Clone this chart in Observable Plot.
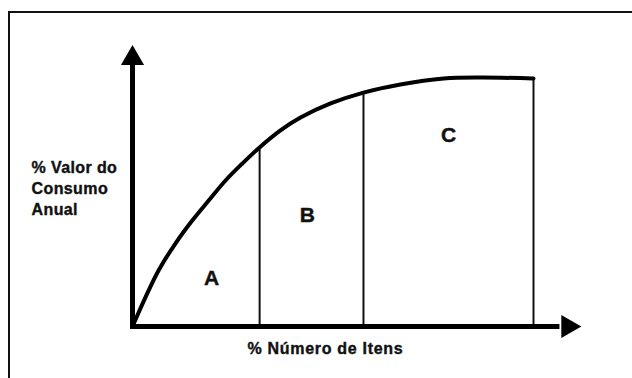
<!DOCTYPE html>
<html>
<head>
<meta charset="utf-8">
<script src="https://cdn.jsdelivr.net/npm/d3@7"></script>
<script src="https://cdn.jsdelivr.net/npm/@observablehq/plot@0.6"></script>
<style>
  html, body { margin: 0; padding: 0; background: #fff; }
  #wrap { position: relative; width: 632px; height: 378px; overflow: hidden; }
  #border { position: absolute; left: 8px; top: 11px; width: 700px; height: 500px;
            border-left: 2px solid #111; border-top: 2px solid #111; box-sizing: border-box; }
  #chart { position: absolute; left: 0; top: 0; }
</style>
</head>
<body>
<div id="wrap"><div id="border"></div><div id="chart"></div></div>
<script>
// ABC (Pareto) curve: cumulative % of annual consumption value vs % of items
const itemsPct = [0, 3.2, 6.5, 10.7, 14.9, 19.0, 23.2, 27.4, 31.4, 36.9, 41.9, 49.4, 57.6, 66.8, 77.6, 86.8, 100];
const valuePct = [0, 11.7, 22.7, 33.6, 42.9, 51.0, 59.1, 66.0, 72.1, 79.4, 84.6, 90.3, 94.7, 98.0, 100.4, 100.8, 100.4];

// class boundaries (x) and curve height at each boundary
const boundaryX = [31.7, 57.6, 100];
const boundaryTop = [72.6, 94.7, 100.4];

// class letters
const classNames = ["A", "B", "C"];
const classX = [19.7, 43.6, 78.8];
const classY = [19.4, 44.9, 77.3];

// axis texts
const yLabel = "% Valor do\nConsumo\nAnual";
const xLabel = "% Número de Itens";
const axisMax = 108.6;

const curve = itemsPct.map((x, i) => ({x, y: valuePct[i]}));
const bounds = boundaryX.map((x, i) => ({x, top: boundaryTop[i]}));
const letters = classNames.map((t, i) => ({t, x: classX[i], y: classY[i]}));

const font = "'Liberation Sans', Arial, sans-serif";

const chart = Plot.plot({
  width: 632,
  height: 378,
  marginLeft: 132,
  marginRight: 99,
  marginTop: 79,
  marginBottom: 52,
  x: {domain: [0, 100], axis: null},
  y: {domain: [0, 100], axis: null},
  style: {background: "transparent", fontFamily: font, overflow: "visible"},
  marks: [
    // class boundaries
    Plot.ruleX(bounds, {x: "x", y1: 0, y2: "top", stroke: "#111", strokeWidth: 2}),
    // axes
    Plot.ruleX([0], {y1: 0, y2: axisMax - 2, stroke: "#000", strokeWidth: 5}),
    Plot.ruleY([0], {x1: -0.5, x2: axisMax - 2, stroke: "#000", strokeWidth: 5}),
    Plot.dot([{x: 0, y: axisMax}], {x: "x", y: "y", symbol: "triangle", r: 8.6, fill: "#000", stroke: "none"}),
    Plot.dot([{x: axisMax, y: 0}], {x: "x", y: "y", symbol: "triangle", r: 8.6, fill: "#000", stroke: "none", rotate: 90}),
    // curve
    Plot.line(curve, {x: "x", y: "y", curve: "catmull-rom", stroke: "#000", strokeWidth: 4}),
    // class letters
    Plot.text(letters, {x: "x", y: "y", text: "t", fontSize: 21, fontWeight: "bold", fill: "#111",
      stroke: "#111", strokeWidth: 0.4}),
    // axis labels
    Plot.text([yLabel], {frameAnchor: "left", dx: -101, y: 56.3, textAnchor: "start", fontSize: 16,
      fontWeight: "bold", lineHeight: 1.3, fill: "#111", stroke: "#111", strokeWidth: 0.4}),
    Plot.text([xLabel], {x: 48.1, y: -8.9, fontSize: 16, fontWeight: "bold", fill: "#111",
      stroke: "#111", strokeWidth: 0.4})
  ]
});
d3.select(chart).selectAll("text").each(function() {
  const s = this.textContent;
  if (s.startsWith("% V")) this.style.letterSpacing = "0.4px";
  if (s === xLabel) this.style.letterSpacing = "0.7px";
});
document.getElementById("chart").appendChild(chart);
</script>
</body>
</html>
